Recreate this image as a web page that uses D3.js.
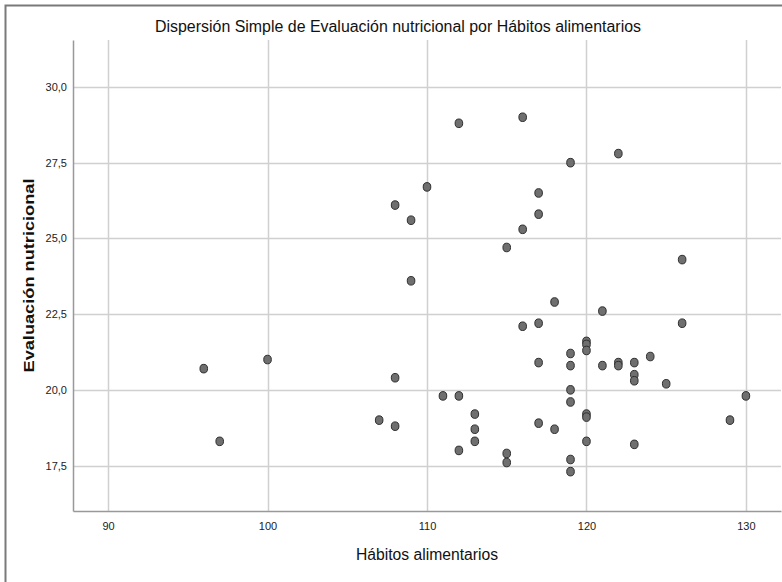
<!DOCTYPE html>
<html>
<head>
<meta charset="utf-8">
<script src="https://cdn.jsdelivr.net/npm/d3@7"></script>
<style>
  html, body { margin: 0; padding: 0; background: #fff; }
  svg { display: block; font-family: Arial, "Liberation Sans", sans-serif; }
</style>
</head>
<body>
<svg id="chart" width="782" height="582"></svg>
<script>
// Hábitos alimentarios (x) and Evaluación nutricional (y)
const habitos = [96, 97, 100, 107, 108, 108, 108, 109, 109, 110,
  111, 112, 112, 112, 113, 113, 113, 115, 115, 115,
  116, 116, 116, 117, 117, 117, 117, 117, 118, 118,
  119, 119, 119, 119, 119, 119, 119, 120, 120, 120,
  120, 120, 120, 121, 121, 122, 122, 122, 123, 123,
  123, 123, 124, 125, 126, 126, 129, 130]
const evaluacion = [20.7, 18.3, 21.0, 19.0, 26.1, 20.4, 18.8, 25.6, 23.6, 26.7,
  19.8, 28.8, 19.8, 18.0, 19.2, 18.7, 18.3, 24.7, 17.9, 17.6,
  29.0, 25.3, 22.1, 26.5, 25.8, 22.2, 20.9, 18.9, 22.9, 18.7,
  27.5, 21.2, 20.8, 20.0, 19.6, 17.7, 17.3, 21.6, 21.5, 21.3,
  19.2, 19.1, 18.3, 22.6, 20.8, 27.8, 20.9, 20.8, 20.9, 20.5,
  20.3, 18.2, 21.1, 20.2, 24.3, 22.2, 19.0, 19.8]

const xTicks = [90, 100, 110, 120, 130]
const yTicks = [17.5, 20.0, 22.5, 25.0, 27.5, 30.0]

const titulo = "Dispersión Simple de Evaluación nutricional por Hábitos alimentarios"
const xTitulo = "Hábitos alimentarios"
const yTitulo = "Evaluación nutricional"

let plotLeft = 73, plotRight = 781, plotTop = 40, plotBottom = 511

let svg = d3.select("#chart")

// outer frame (only top and left visible in the picture)
svg.append("path")
    .attr("d", "M5.5,582 L5.5,5.5 L782,5.5")
    .attr("fill", "none")
    .attr("stroke", "#7a7a7a")
    .attr("stroke-width", 2)

let x = d3.scaleLinear()
    .domain([87.8, 132.2])
    .range([plotLeft, plotRight])

let y = d3.scaleLinear()
    .domain([16.0, 31.55])
    .range([plotBottom, plotTop])

let comma = v => d3.format(".1f")(v).replace(".", ",")

// grid lines
svg.append("g")
    .selectAll("line")
    .data(xTicks)
    .enter()
    .append("line")
    .attr("x1", d => Math.round(x(d)) + 0.5)
    .attr("x2", d => Math.round(x(d)) + 0.5)
    .attr("y1", plotTop)
    .attr("y2", plotBottom)
    .attr("stroke", "#d0d0d0")
    .attr("stroke-width", 1.5)

svg.append("g")
    .selectAll("line")
    .data(yTicks)
    .enter()
    .append("line")
    .attr("x1", plotLeft)
    .attr("x2", plotRight)
    .attr("y1", d => Math.round(y(d)) + 0.5)
    .attr("y2", d => Math.round(y(d)) + 0.5)
    .attr("stroke", "#d0d0d0")
    .attr("stroke-width", 1.5)

// axes
let xAxis = d3.axisBottom(x)
    .tickValues(xTicks)
    .tickSize(0)
    .tickPadding(11)

let yAxis = d3.axisLeft(y)
    .tickValues(yTicks)
    .tickFormat(comma)
    .tickSize(0)
    .tickPadding(6)

let gx = svg.append("g")
    .attr("transform", "translate(0," + plotBottom + ")")
    .call(xAxis)

let gy = svg.append("g")
    .attr("transform", "translate(" + plotLeft + ",0)")
    .call(yAxis)

gx.select(".domain").attr("stroke", "#999").attr("stroke-width", 1.5)
gy.select(".domain").attr("stroke", "#999").attr("stroke-width", 1.5)

svg.selectAll(".tick text")
    .style("font-family", "Arial, 'Liberation Sans', sans-serif")
    .style("font-size", "11px")
    .attr("fill", "#222")

// points
svg.append("g")
    .selectAll("ellipse")
    .data(habitos.map((h, i) => ({ h: h, e: evaluacion[i] })))
    .enter()
    .append("ellipse")
    .attr("cx", d => x(d.h))
    .attr("cy", d => y(d.e))
    .attr("rx", 3.8)
    .attr("ry", 4.3)
    .attr("fill", "#6f6f6f")
    .attr("stroke", "#2e2e2e")
    .attr("stroke-width", 1)

// titles
svg.append("text")
    .attr("x", 398)
    .attr("y", 32)
    .attr("text-anchor", "middle")
    .attr("textLength", 486)
    .attr("lengthAdjust", "spacingAndGlyphs")
    .style("font-size", "16px")
    .attr("fill", "#111")
    .text(titulo)

svg.append("text")
    .attr("x", (plotLeft + plotRight) / 2)
    .attr("y", 560)
    .attr("text-anchor", "middle")
    .attr("textLength", 142)
    .attr("lengthAdjust", "spacingAndGlyphs")
    .style("font-size", "16px")
    .attr("fill", "#111")
    .text(xTitulo)

svg.append("text")
    .attr("transform", "translate(34," + (plotTop + plotBottom) / 2 + ") rotate(-90)")
    .attr("text-anchor", "middle")
    .attr("textLength", 194)
    .attr("lengthAdjust", "spacingAndGlyphs")
    .style("font-size", "15px")
    .style("font-weight", "bold")
    .attr("fill", "#111")
    .text(yTitulo)
</script>
</body>
</html>
